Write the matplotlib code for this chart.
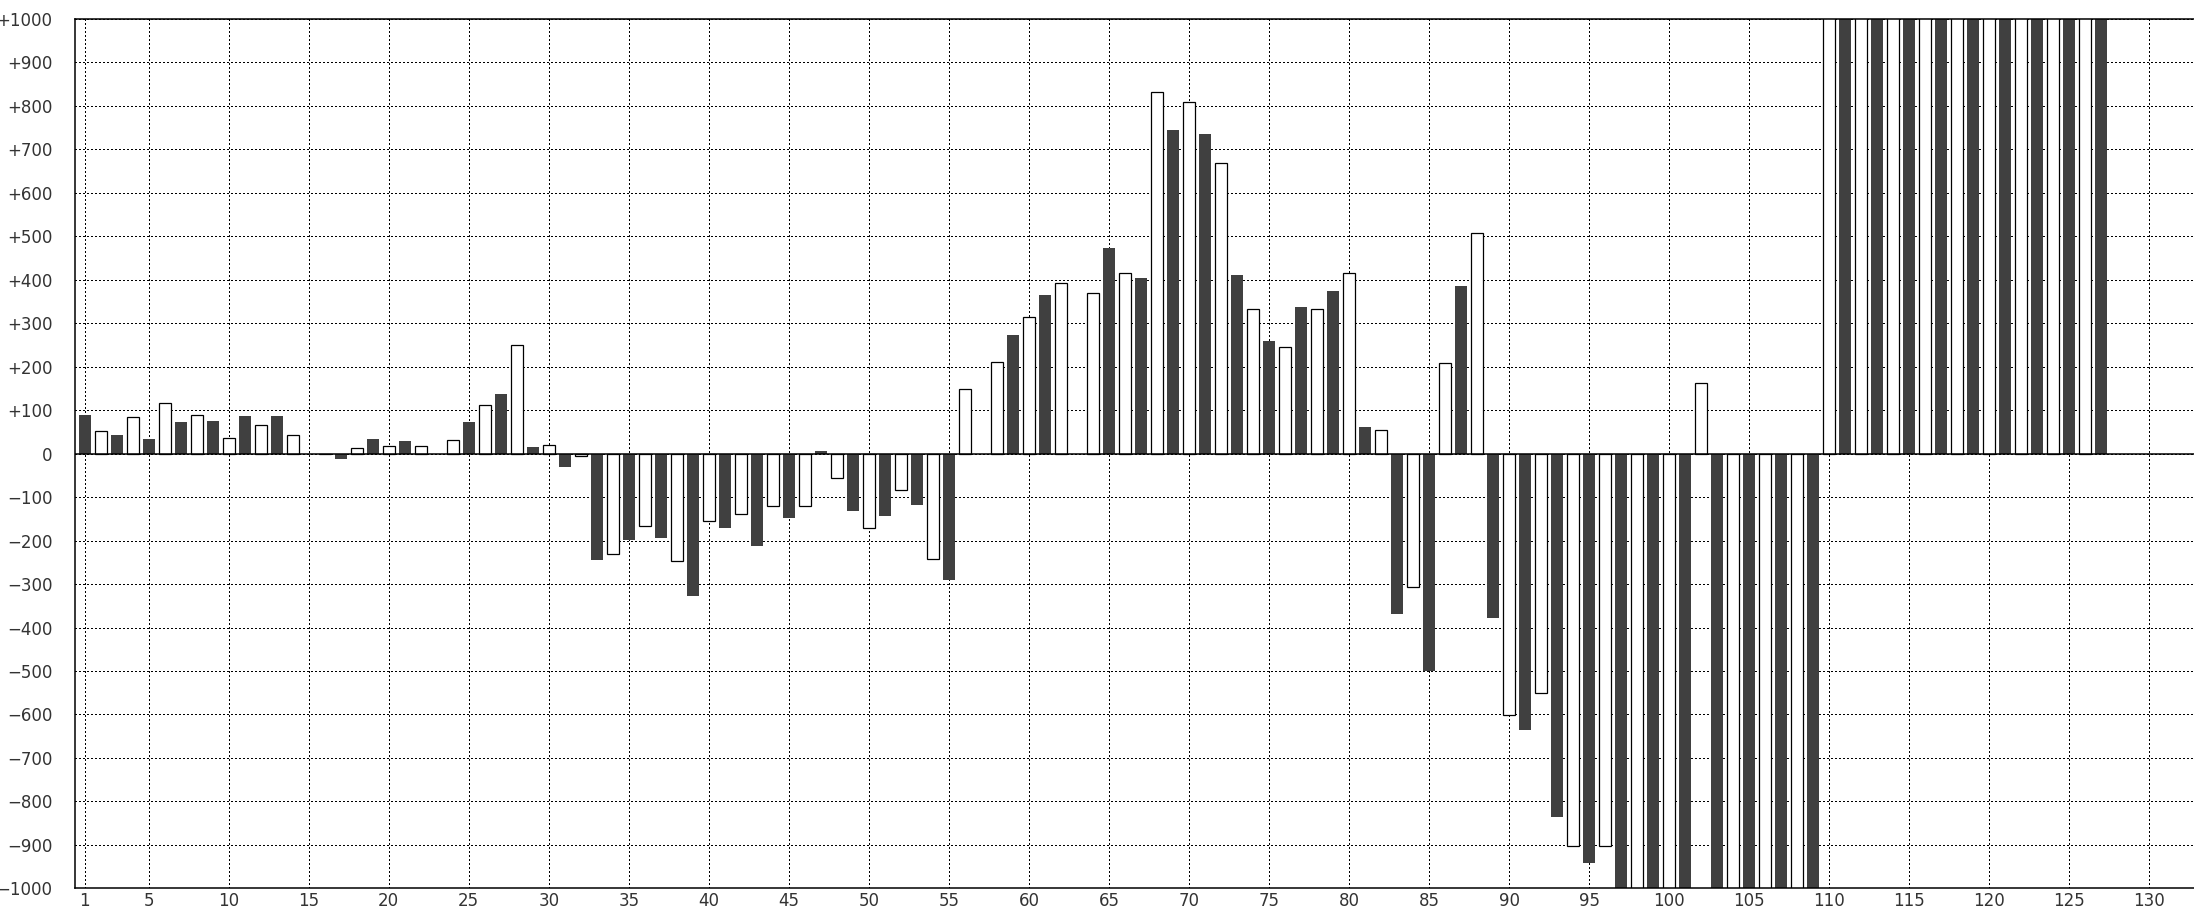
import numpy as np
import matplotlib.pyplot as plt

# bar values, one per position 1..127 (odd = dark, even = white)
# values beyond +-1000 run off the scale in the original
values = [
    90, 51, 43, 84, 33, 117, 72, 90, 76, 37,
    86, 65, 86, 42, 0, 0, -13, 13, 33, 18,
    29, 18, 0, 32, 72, 113, 138, 250, 15, 19,
    -31, -6, -245, -230, -198, -166, -195, -248, -327, -156,
    -172, -138, -213, -120, -149, -120, 6, -56, -131, -170,
    -144, -84, -117, -243, -291, 148, 0, 212, 274, 314,
    366, 393, 0, 369, 472, 415, 403, 831, 745, 808,
    735, 669, 412, 332, 260, 245, 338, 332, 375, 415,
    62, 55, -368, -307, -501, 208, 385, 508, -378, -601,
    -635, -550, -836, -903, -942, -903, -1200, -1200, -1200, -1200,
    -1200, 162, -1200, -1200, -1200, -1200, -1200, -1200, -1200, 1200,
    1200, 1200, 1200, 1200, 1200, 1200, 1200, 1200, 1200, 1200,
    1200, 1200, 1200, 1200, 1200, 1200, 1200,
]
positions = list(range(1, len(values) + 1))

xticks = [1] + list(range(5, 131, 5))
yticks = list(range(-1000, 1001, 100))
ylabels = ['+%d' % v if v > 0 else ('0' if v == 0 else '\u2212%d' % -v) for v in yticks]

dark = '#404040'

fig = plt.figure(figsize=(21.94, 9.08), dpi=100)
ax = fig.add_axes([74.7 / 2194, 1 - 888.3 / 908, 1 - 74.7 / 2194, (888.3 - 19) / 908])

odd_x = [p for p in positions if p % 2 == 1]
odd_v = [values[p - 1] for p in odd_x]
even_x = [p for p in positions if p % 2 == 0]
even_v = [values[p - 1] for p in even_x]

ax.bar(odd_x, odd_v, width=0.75, color=dark, edgecolor='none', zorder=2)
ax.bar(even_x, even_v, width=0.75, color='white', edgecolor='black', linewidth=0.9, zorder=2)
ax.axhline(0, color='black', linewidth=1.1, zorder=3)

ax.set_xlim(0.375, 132.8)
ax.set_ylim(-1000, 1000)
ax.set_xticks(xticks)
ax.set_xticklabels([str(t) for t in xticks])
ax.set_yticks(yticks)
ax.set_yticklabels(ylabels)

ax.grid(True, color='black', linestyle=(0, (1, 2)), linewidth=0.75, antialiased=False)
ax.set_axisbelow(True)
ax.tick_params(axis='both', length=0, labelsize=12, labelcolor='#333333')
ax.tick_params(axis='y', pad=16)
ax.tick_params(axis='x', pad=3)

ax.spines['right'].set_visible(False)
for s in ['left', 'top', 'bottom']:
    ax.spines[s].set_linewidth(1.1)
    ax.spines[s].set_zorder(4)

fig.savefig('out.png', dpi=100)
